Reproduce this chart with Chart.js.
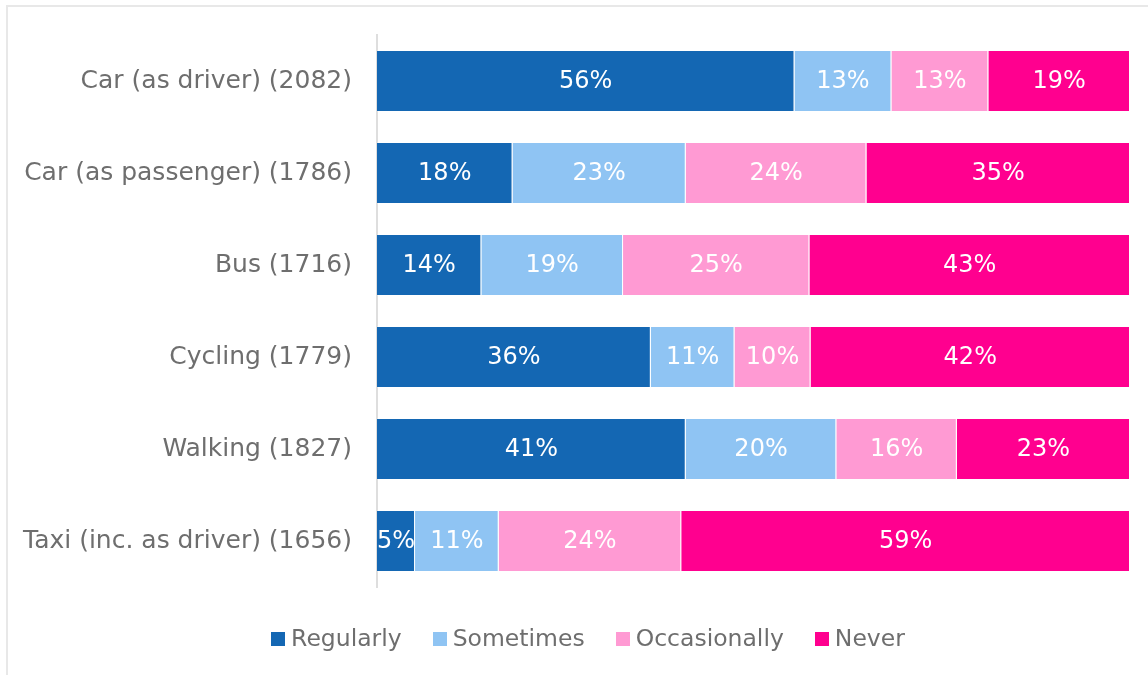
<!DOCTYPE html>
<html>
<head>
<meta charset="utf-8">
<script src="https://cdn.jsdelivr.net/npm/chart.js@4/dist/chart.umd.min.js"></script>
<style>
  html, body { margin: 0; padding: 0; background: #ffffff; }
  #wrap { position: relative; width: 1148px; height: 675px; }
</style>
</head>
<body>
<div id="wrap"><canvas id="c" width="1148" height="675"></canvas></div>
<script>
// ---- data (percentages as shown on the chart) ----
const categories = [
  'Car (as driver) (2082)',
  'Car (as passenger) (1786)',
  'Bus (1716)',
  'Cycling (1779)',
  'Walking (1827)',
  'Taxi (inc. as driver) (1656)'
];
const seriesNames = ['Regularly', 'Sometimes', 'Occasionally', 'Never'];
const regularly    = [56, 18, 14, 36, 41, 5];
const sometimes    = [13, 23, 19, 11, 20, 11];
const occasionally = [13, 24, 25, 10, 16, 24];
const never        = [19, 35, 43, 42, 23, 59];
const colors = ['#1467B3', '#8FC4F3', '#FF9AD3', '#FF008F'];

const series = [regularly, sometimes, occasionally, never];
// 100% stacked: each row scaled to its own total
const totals = categories.map((_, i) => series.reduce((s, arr) => s + arr[i], 0));

const FONT = "'DejaVu Sans', Verdana, sans-serif";
const GREY = '#6e6e6e';

const datasets = series.map((arr, k) => ({
  label: seriesNames[k],
  data: arr.map((v, i) => v / totals[i] * 100),
  shown: arr,
  backgroundColor: colors[k],
  borderColor: 'rgba(255,255,255,0.18)',
  borderWidth: 1,
  barPercentage: 0.675,
  categoryPercentage: 1.0
}));

const framePlugin = {
  id: 'frame',
  beforeDraw(chart) {
    const ctx = chart.ctx;
    ctx.save();
    ctx.fillStyle = '#e8e8e8';
    ctx.fillRect(6, 5, 1148, 2);
    ctx.fillRect(6, 5, 2, 675);
    ctx.restore();
  }
};

const labelPlugin = {
  id: 'segLabels',
  afterDatasetsDraw(chart) {
    const ctx = chart.ctx;
    ctx.save();
    ctx.font = '24px ' + FONT;
    ctx.fillStyle = '#ffffff';
    ctx.textAlign = 'center';
    ctx.textBaseline = 'middle';
    chart.data.datasets.forEach((ds, di) => {
      const meta = chart.getDatasetMeta(di);
      meta.data.forEach((el, i) => {
        const cx = (el.x + el.base) / 2;
        ctx.fillText(ds.shown[i] + '%', cx, el.y + 1);
      });
    });
    ctx.restore();
  }
};

// legend drawn below the plot, centred on the original frame
const legendPlugin = {
  id: 'bottomLegend',
  afterDraw(chart) {
    const ctx = chart.ctx;
    const box = 14, gapText = 6, gapItem = 31, centerX = 588, cy = 639;
    ctx.save();
    ctx.font = '23.5px ' + FONT;
    ctx.textBaseline = 'middle';
    ctx.textAlign = 'left';
    const items = chart.data.datasets.map(ds => ({
      text: ds.label, color: ds.backgroundColor, w: ctx.measureText(ds.label).width
    }));
    const total = items.reduce((s, it) => s + box + gapText + it.w, 0) + gapItem * (items.length - 1);
    let x = centerX - total / 2;
    items.forEach(it => {
      ctx.fillStyle = it.color;
      ctx.fillRect(Math.round(x), cy - 7, box, box);
      ctx.fillStyle = GREY;
      ctx.fillText(it.text, x + box + gapText, cy + 1);
      x += box + gapText + it.w + gapItem;
    });
    ctx.restore();
  }
};

new Chart(document.getElementById('c'), {
  type: 'bar',
  data: { labels: categories, datasets },
  options: {
    indexAxis: 'y',
    responsive: false,
    animation: false,
    layout: { padding: { left: 0, right: 18, top: 35, bottom: 88 } },
    scales: {
      x: { stacked: true, min: 0, max: 100, display: false },
      y: {
        stacked: true,
        grid: { display: false },
        border: { display: true, color: '#dedede', width: 2 },
        ticks: { color: GREY, font: { family: FONT, size: 25 }, padding: 17 },
        afterFit(scale) { scale.width = 377; }
      }
    },
    plugins: {
      legend: { display: false },
      tooltip: { enabled: false }
    }
  },
  plugins: [framePlugin, labelPlugin, legendPlugin]
});
</script>
</body>
</html>
